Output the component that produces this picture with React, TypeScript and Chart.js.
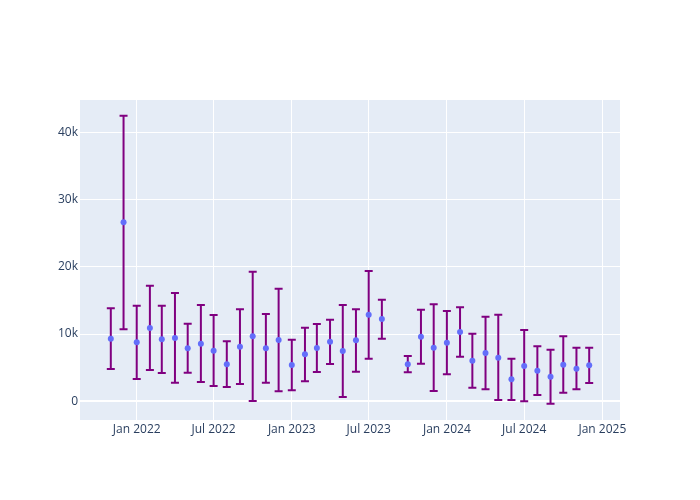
import { useEffect, useRef } from 'react';
import { Chart, registerables } from 'chart.js';

Chart.register(...registerables);

const dates = [
  '2021-11-01', '2021-12-01',
  '2022-01-01', '2022-02-01', '2022-03-01', '2022-04-01', '2022-05-01', '2022-06-01',
  '2022-07-01', '2022-08-01', '2022-09-01', '2022-10-01', '2022-11-01', '2022-12-01',
  '2023-01-01', '2023-02-01', '2023-03-01', '2023-04-01', '2023-05-01', '2023-06-01',
  '2023-07-01', '2023-08-01', '2023-10-01', '2023-11-01', '2023-12-01',
  '2024-01-01', '2024-02-01', '2024-03-01', '2024-04-01', '2024-05-01', '2024-06-01',
  '2024-07-01', '2024-08-01', '2024-09-01', '2024-10-01', '2024-11-01', '2024-12-01',
];

const values = [
  9310, 26610, 8770, 10900, 9220, 9410, 7880, 8570, 7530, 5500, 8120, 9660, 7880, 9120,
  5400, 6990, 7930, 8870, 7480, 9070, 12880, 12240,
  5500, 9610, 7980, 8720, 10310, 6040, 7180, 6490, 3270, 5250, 4560, 3660, 5450, 4850, 5350,
];

const upper = [
  13830, 42470, 14220, 17190, 14220, 16100, 11540, 14320, 12830, 8920, 13680, 19280, 12980, 16750,
  9170, 10950, 11500, 12140, 14320, 13680, 19380, 15110,
  6740, 13630, 14420, 13430, 13970, 10060, 12590, 12880, 6340, 10600, 8170, 7680, 9660, 7980, 7980,
];

const lower = [
  4800, 10700, 3320, 4650, 4210, 2770, 4260, 2870, 2280, 2130, 2570, 50, 2770, 1480,
  1630, 2970, 4360, 5550, 640, 4410, 6340, 9310,
  4310, 5600, 1530, 4010, 6640, 2030, 1780, 190, 190, 0, 940, -350, 1280, 1780, 2720,
];

const xTickDates = ['2022-01-01', '2022-07-01', '2023-01-01', '2023-07-01', '2024-01-01', '2024-07-01', '2025-01-01'];
const xTickLabels = ['Jan 2022', 'Jul 2022', 'Jan 2023', 'Jul 2023', 'Jan 2024', 'Jul 2024', 'Jan 2025'];
const yTickValues = [0, 10000, 20000, 30000, 40000];
const yTickLabels = ['0', '10k', '20k', '30k', '40k'];

const DAY = 86400000;
const toMs = (s: string) => Date.parse(s + 'T00:00:00Z');

export default function App() {
  const ref = useRef<HTMLCanvasElement | null>(null);

  useEffect(() => {
    if (!ref.current) return;
    const xs = dates.map(toMs);
    const data = xs.map((x, i) => ({ x, y: values[i] }));
    const xMin = toMs('2021-11-01') - 72.5 * DAY;
    const xMax = toMs('2024-12-01') + 72.5 * DAY;
    const tickMs = xTickDates.map(toMs);

    const bgPlugin = {
      id: 'plotBg',
      beforeDraw(chart: any) {
        const { ctx, chartArea } = chart;
        ctx.save();
        ctx.fillStyle = '#E5ECF6';
        ctx.fillRect(chartArea.left, chartArea.top, chartArea.right - chartArea.left, chartArea.bottom - chartArea.top);
        ctx.restore();
      },
    };

    const errPlugin = {
      id: 'errBars',
      beforeDatasetsDraw(chart: any) {
        const { ctx } = chart;
        const xs2 = chart.scales.x;
        const ys = chart.scales.y;
        ctx.save();
        ctx.strokeStyle = '#800080';
        ctx.lineWidth = 2;
        for (let i = 0; i < xs.length; i++) {
          const px = xs2.getPixelForValue(xs[i]);
          const yh = ys.getPixelForValue(upper[i]);
          const yl = ys.getPixelForValue(lower[i]);
          ctx.beginPath();
          ctx.moveTo(px, yh);
          ctx.lineTo(px, yl);
          ctx.moveTo(px - 4, yh);
          ctx.lineTo(px + 4, yh);
          ctx.moveTo(px - 4, yl);
          ctx.lineTo(px + 4, yl);
          ctx.stroke();
        }
        ctx.restore();
      },
    };

    const font = { family: '"Open Sans", verdana, arial, sans-serif', size: 12 };

    const chart = new Chart(ref.current, {
      type: 'scatter',
      data: {
        datasets: [
          {
            data,
            backgroundColor: '#636efa',
            borderWidth: 0,
            pointRadius: 3,
            pointHoverRadius: 3,
          },
        ],
      },
      options: {
        responsive: false,
        animation: false,
        layout: { padding: { left: 0, top: 100, right: 80, bottom: 0 } },
        plugins: { legend: { display: false }, tooltip: { enabled: false } },
        scales: {
          x: {
            type: 'linear',
            min: xMin,
            max: xMax,
            afterBuildTicks(scale: any) {
              scale.ticks = tickMs.map((v) => ({ value: v }));
            },
            afterFit(scale: any) {
              scale.height = 80;
            },
            ticks: {
              autoSkip: false,
              maxRotation: 0,
              padding: 2,
              color: '#2a3f5f',
              font,
              callback: (v: any) => {
                const idx = tickMs.indexOf(Number(v));
                return idx >= 0 ? xTickLabels[idx] : '';
              },
            },
            grid: { color: '#ffffff', lineWidth: 1, drawTicks: false },
            border: { display: false },
          },
          y: {
            type: 'linear',
            min: -2780,
            max: 44800,
            afterBuildTicks(scale: any) {
              scale.ticks = yTickValues.map((v) => ({ value: v }));
            },
            afterFit(scale: any) {
              scale.width = 80;
            },
            ticks: {
              padding: 2,
              color: '#2a3f5f',
              font,
              callback: (v: any) => {
                const idx = yTickValues.indexOf(Number(v));
                return idx >= 0 ? yTickLabels[idx] : '';
              },
            },
            grid: {
              color: '#ffffff',
              lineWidth: (c: any) => (c.tick && c.tick.value === 0 ? 2 : 1),
              drawTicks: false,
            },
            border: { display: false },
          },
        },
      },
      plugins: [bgPlugin, errPlugin],
    } as any);

    return () => chart.destroy();
  }, []);

  return (
    <div style={{ position: 'absolute', left: 0, top: 0, width: 700, height: 500, background: '#fff' }}>
      <canvas ref={ref} width={700} height={500} style={{ display: 'block', width: 700, height: 500 }} />
    </div>
  );
}
